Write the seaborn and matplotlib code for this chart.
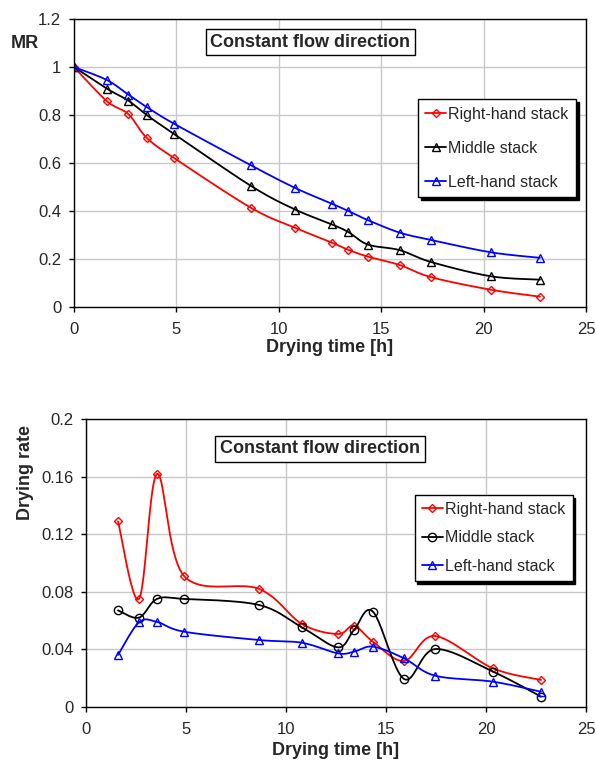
import numpy as np
import seaborn as sns
import matplotlib
matplotlib.use("Agg")
import matplotlib.pyplot as plt
from matplotlib.lines import Line2D
from matplotlib.ticker import FuncFormatter, MultipleLocator

# drying time [h]
hours = [0, 1.6, 2.65, 3.55, 4.9, 8.65, 10.8, 12.6, 13.4, 14.35, 15.9, 17.45, 20.35, 22.75]

# moisture ratio
mr_right = [1.0, 0.858, 0.804, 0.705, 0.62, 0.413, 0.33, 0.268, 0.238, 0.21, 0.175, 0.124, 0.072, 0.043]
mr_middle = [1.0, 0.91, 0.86, 0.80, 0.72, 0.504, 0.406, 0.344, 0.312, 0.26, 0.237, 0.187, 0.128, 0.114]
mr_left = [1.0, 0.946, 0.885, 0.833, 0.763, 0.59, 0.496, 0.43, 0.40, 0.362, 0.31, 0.279, 0.228, 0.205]

# drying rate (no value at t=0)
rate_hours = hours[1:]
rate_right = [0.129, 0.075, 0.162, 0.091, 0.082, 0.0575, 0.0506, 0.0564, 0.0452, 0.0318, 0.0492, 0.0267, 0.0186]
rate_middle = [0.067, 0.062, 0.075, 0.075, 0.0708, 0.0552, 0.0413, 0.0534, 0.0661, 0.0193, 0.0401, 0.0244, 0.007]
rate_left = [0.036, 0.0587, 0.059, 0.0522, 0.0464, 0.0445, 0.0371, 0.0383, 0.0418, 0.0337, 0.0216, 0.0174, 0.0104]

labels = ["Right-hand stack", "Middle stack", "Left-hand stack"]
colors = ["#ff0000", "black", "#0000ff"]

sns.set_style("white")
plt.rcParams["font.family"] = ["Liberation Sans", "DejaVu Sans"]


def smooth(x, y, sx, sy, n=24):
    # excel-like smoothed line (bezier through the points), done in screen-ish units
    p = np.column_stack([np.asarray(x, float) * sx, np.asarray(y, float) * sy])
    p = np.vstack([p[0], p, p[-1]])
    out = []
    t = np.linspace(0, 1, n, endpoint=False)[:, None]
    for i in range(1, len(p) - 2):
        p0, p1, p2, p3 = p[i - 1], p[i], p[i + 1], p[i + 2]
        c1 = p1 + (p2 - p0) / 6
        c2 = p2 - (p3 - p1) / 6
        out.append((1 - t) ** 3 * p1 + 3 * (1 - t) ** 2 * t * c1 + 3 * (1 - t) * t ** 2 * c2 + t ** 3 * p2)
    out.append(p[-2][None])
    out = np.vstack(out)
    return out[:, 0] / sx, out[:, 1] / sy


def draw(ax, x, y, color, marker, ms, sx, sy):
    xs, ys = smooth(x, y, sx, sy)
    sns.lineplot(x=xs, y=ys, ax=ax, color=color, lw=1.3, sort=False, estimator=None)
    sns.lineplot(x=x, y=y, ax=ax, color=color, marker=marker, ms=ms, mec=color,
                 mfc="none", mew=1, ls="", sort=False, estimator=None)


def style_axes(ax, ymax, ystep):
    ax.set_xlim(0, 25)
    ax.set_ylim(0, ymax)
    ax.xaxis.set_major_locator(MultipleLocator(5))
    ax.yaxis.set_major_locator(MultipleLocator(ystep))
    ax.yaxis.set_major_formatter(FuncFormatter(lambda v, p: "%g" % round(v, 4)))
    ax.grid(True, color="#c8c8c8", lw=1)
    ax.set_axisbelow(True)
    for s in ax.spines.values():
        s.set_color("black")
        s.set_linewidth(1)
    ax.tick_params(direction="out", length=3.6, width=1, color="black",
                   labelsize=12, pad=5.5, bottom=True, left=True)
    ax.tick_params(axis="x", pad=7.5)


def add_legend(ax, markers, sizes, anchor, spacing, bpad):
    handles = [Line2D([], [], color=c, marker=m, ms=s, mfc="none", mec=c, mew=1, lw=1.3)
               for c, m, s in zip(colors, markers, sizes)]
    leg = ax.legend(handles, labels, loc="upper right", bbox_to_anchor=anchor,
                    borderaxespad=0, fontsize=11.5, handlelength=1.3, handletextpad=0.15,
                    labelspacing=spacing, borderpad=bpad, fancybox=False,
                    shadow={"color": "black", "alpha": 1}, framealpha=1)
    leg.get_frame().set_edgecolor("black")
    leg.get_frame().set_linewidth(1)


fig = plt.figure(figsize=(5.96, 7.6), dpi=100)

# top: moisture ratio
ax1 = fig.add_axes([74 / 596, 1 - 307 / 760, 512 / 596, 288 / 760])
draw(ax1, hours, mr_right, colors[0], "D", 4, 512 / 25, 288 / 1.2)
draw(ax1, hours, mr_middle, colors[1], "^", 5.5, 512 / 25, 288 / 1.2)
draw(ax1, hours, mr_left, colors[2], "^", 5.5, 512 / 25, 288 / 1.2)
style_axes(ax1, 1.2, 0.2)
ax1.set_xlabel("Drying time [h]", fontsize=13, fontweight="bold", va="center")
ax1.xaxis.set_label_coords(0.5, -0.142)
ax1.set_ylabel("MR", fontsize=13, fontweight="bold", rotation=0, ha="center", va="center")
ax1.yaxis.set_label_coords(-0.0957, 0.9156)
ax1.text(0.461, 0.92, "Constant flow direction", transform=ax1.transAxes, ha="center", va="center",
         fontsize=13, fontweight="bold",
         bbox=dict(boxstyle="square,pad=0.25", fc="white", ec="black", lw=1))
add_legend(ax1, ["D", "^", "^"], [4, 5.5, 5.5], (0.980, 0.721), 1.2, 0.45)

# bottom: drying rate
ax2 = fig.add_axes([86 / 596, 1 - 706.7 / 760, 500 / 596, 287.4 / 760])
draw(ax2, rate_hours, rate_right, colors[0], "D", 4, 500 / 25, 287.4 / 0.2)
draw(ax2, rate_hours, rate_middle, colors[1], "o", 6, 500 / 25, 287.4 / 0.2)
draw(ax2, rate_hours, rate_left, colors[2], "^", 5.5, 500 / 25, 287.4 / 0.2)
style_axes(ax2, 0.2, 0.04)
ax2.set_xlabel("Drying time [h]", fontsize=13, fontweight="bold", va="center")
ax2.xaxis.set_label_coords(0.5, -0.154)
ax2.set_ylabel("Drying rate", fontsize=13, fontweight="bold", va="center", ha="center")
ax2.yaxis.set_label_coords(-0.122, 0.815)
ax2.text(0.468, 0.897, "Constant flow direction", transform=ax2.transAxes, ha="center", va="center",
         fontsize=13, fontweight="bold",
         bbox=dict(boxstyle="square,pad=0.25", fc="white", ec="black", lw=1))
add_legend(ax2, ["D", "o", "^"], [4, 6, 5.5], (0.973, 0.737), 0.84, 0.45)

fig.savefig("out.png", dpi=100)
